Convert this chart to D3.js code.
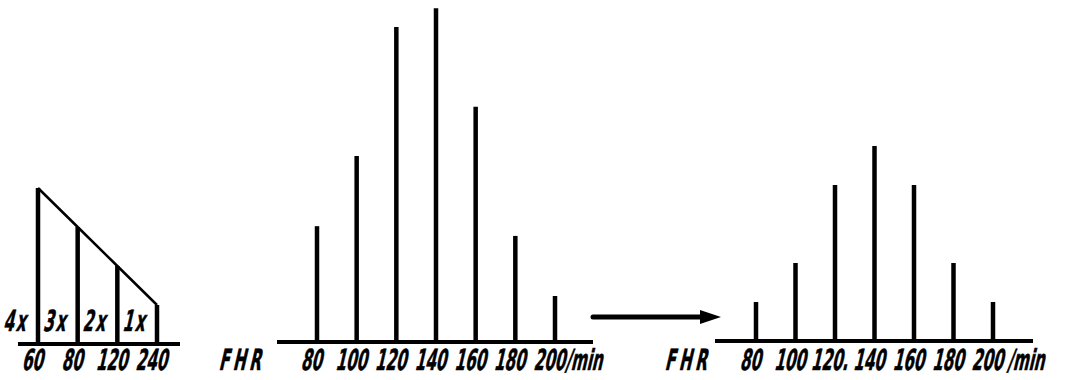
<!DOCTYPE html>
<html>
<head>
<meta charset="utf-8">
<script src="https://cdn.jsdelivr.net/npm/d3@7"></script>
<style>
  html, body { margin: 0; padding: 0; background: #fff; }
  svg { display: block; }
  text { font-family: "DejaVu Sans", sans-serif; font-weight: bold; fill: #000; stroke: #000; stroke-width: 0.6px; }
</style>
</head>
<body>
<div id="chart"></div>
<script>
// weighting panel
const weightCats = ['60', '80', '120', '240'];
const weightValues = [4, 3, 2, 1];
const weightLabels = ['4x', '3x', '2x', '1x'];

// FHR distribution before / after
const fhrCats = ['80', '100', '120', '140', '160', '180', '200'];
const fhrBefore = [2.97, 4.77, 8.08, 8.56, 6.03, 2.72, 1.18];
const fhrAfter = [1, 2, 4, 5, 4, 2, 1];
const fhrTickLabels = ['80', '100', '120.', '140', '160', '180', '200'];

const width = 1082, height = 380;
const unit = 39; // px per unit of value

const svg = d3.select('#chart')
  .append('svg')
  .attr('width', width)
  .attr('height', height);

function label(g, x, y, txt, anchor, spacing) {
  g.append('text')
    .attr('transform', `translate(${x},${y}) skewX(-13) scale(0.52,1)`)
    .attr('text-anchor', anchor || 'middle')
    .style('font-size', '29px')
    .style('letter-spacing', (spacing || 0) + 'px')
    .text(txt);
}

function panel(cats, values, opts) {
  const g = svg.append('g');
  const x = d3.scalePoint().domain(cats).range(opts.range);
  const y = d3.scaleLinear().domain([0, 9]).range([opts.base, opts.base - 9 * unit]);

  g.append('line')
    .attr('x1', opts.axis[0]).attr('x2', opts.axis[1])
    .attr('y1', opts.base).attr('y2', opts.base)
    .attr('stroke', '#000').attr('stroke-width', 4);

  cats.forEach((c, i) => {
    g.append('line')
      .attr('x1', x(c)).attr('x2', x(c))
      .attr('y1', opts.base).attr('y2', y(values[i]))
      .attr('stroke', '#000').attr('stroke-width', 4.5);
  });

  (opts.ticks || cats).forEach((t, i) => {
    label(g, x(cats[i]) - 6, 370, t);
  });

  return { g, x, y };
}

// panel 1
const p1 = panel(weightCats, weightValues, { range: [38, 157], base: 344, axis: [18, 180] });
p1.g.append('path')
  .attr('d', d3.line().x((d, i) => p1.x(weightCats[i])).y(d => p1.y(d))(weightValues))
  .attr('fill', 'none').attr('stroke', '#000').attr('stroke-width', 2.5);
weightLabels.forEach((t, i) => {
  label(p1.g, p1.x(weightCats[i]) - p1.x.step() / 2 - 3, 331, t, 'middle', 4);
});

// panel 2
const p2 = panel(fhrCats, fhrBefore, { range: [317, 555], base: 342, axis: [277, 593], ticks: fhrTickLabels.map(t => t.replace('.', '')) });
label(p2.g, p2.x('80') - 53, 370, 'FHR', 'end', 7);
label(p2.g, p2.x('200') + 10, 370, '/min', 'start');

// panel 3
const p3 = panel(fhrCats, fhrAfter, { range: [756, 993], base: 341, axis: [715, 1033], ticks: fhrTickLabels });
label(p3.g, p3.x('80') - 46, 370, 'FHR', 'end', 7);
label(p3.g, p3.x('200') + 14, 370, '/min', 'start');

// arrow between panels
const ay = 317;
svg.append('line')
  .attr('x1', 593).attr('x2', 706)
  .attr('y1', ay).attr('y2', ay)
  .attr('stroke', '#000').attr('stroke-width', 5).attr('stroke-linecap', 'round');
svg.append('path')
  .attr('d', `M700,${ay - 7} L721,${ay} L700,${ay + 7} Z`)
  .attr('fill', '#000');
</script>
</body>
</html>
